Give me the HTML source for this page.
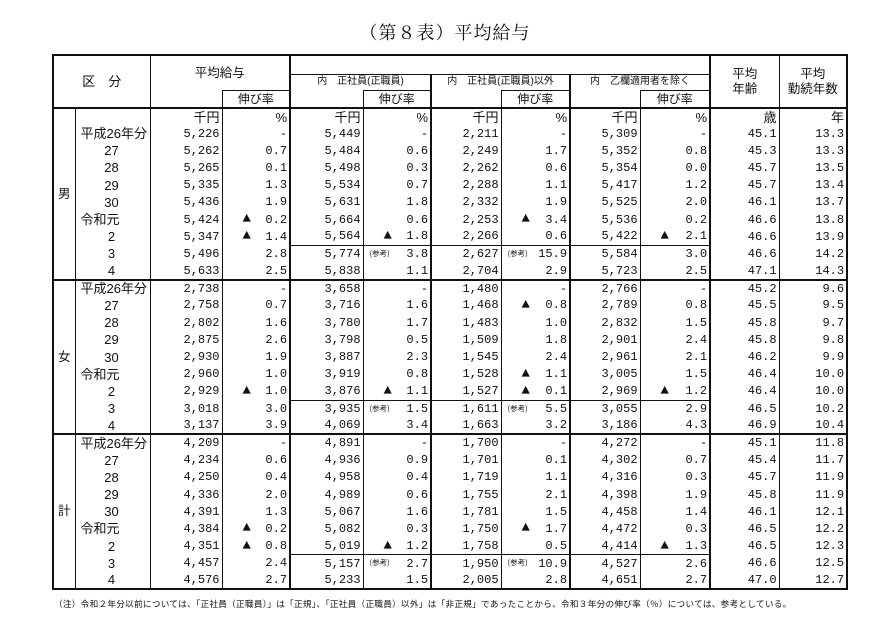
<!DOCTYPE html>
<html><head><meta charset="utf-8">
<style>
body{margin:0;width:870px;height:621px;background:#fff;position:relative;overflow:hidden;font-family:"Liberation Mono","Noto Sans CJK JP",monospace;color:#111}
.title{position:absolute;left:0;width:890px;top:19px;text-align:center;font-family:"Liberation Serif","Noto Serif CJK SC",serif;font-size:18px;letter-spacing:1px}
table{position:absolute;left:52px;top:54px;border-collapse:collapse;table-layout:fixed;width:794px;border:2px solid #111}
td{padding:0 2px 0 0;text-align:right;white-space:nowrap;font-size:12px;line-height:1;overflow:hidden}
thead td{text-align:center;font-family:"Liberation Sans","Noto Sans CJK JP",sans-serif;font-size:12px;padding:0}
thead{border-bottom:2px solid #111}
tbody{border-top:2px solid #111}
tbody tr{height:17.2px}
tbody tr.u{height:17px}
.c1{border-left:1px solid #111}
.c2{border-left:2px solid #111}
.hb{border-bottom:1px solid #111}
.ht{border-top:1px solid #111}
.sm{font-size:10px !important}
.yr{text-align:center;font-family:"Liberation Sans","Noto Sans CJK JP",sans-serif;font-size:13px}
.yl{text-align:left;padding-left:5px;font-family:"Liberation Sans","Noto Sans CJK JP",sans-serif;font-size:13px}
.lab{text-align:center;font-family:"Liberation Sans","Noto Sans CJK JP",sans-serif;font-size:12.5px;padding:0}
.g{position:relative}
.t{position:absolute;left:20px;top:1px;font-size:14px}
.r{position:absolute;left:6px;top:4px;font-size:7.5px;font-family:"Noto Sans CJK JP",sans-serif}
.un{font-family:"Liberation Sans","Noto Sans CJK JP",sans-serif;font-size:13px}
.rb td.s{border-top:1px solid #111}
.note{position:absolute;left:54px;top:598px;font-family:"Noto Sans CJK JP",sans-serif;font-size:8.6px;letter-spacing:0.3px;white-space:nowrap}
</style></head><body>
<div class="title">（第８表）平均給与</div>
<table>
<colgroup>
<col style="width:22px"><col style="width:75px" class="c1"><col style="width:72px" class="c1"><col style="width:68px" class="c1"><col style="width:73px" class="c2"><col style="width:68px" class="c1"><col style="width:70px" class="c2"><col style="width:69px" class="c1"><col style="width:70px" class="c2"><col style="width:70px" class="c1"><col style="width:69px" class="c2"><col style="width:68px" class="c1">
</colgroup>
<thead>
<tr style="height:19px"><td colspan="2" rowspan="3" style="font-size:13px">区　分</td><td colspan="2" rowspan="2" class="c1" style="font-size:12.5px">平均給与</td><td colspan="6" class="hb c2"></td><td rowspan="3" class="c2" style="font-size:12.5px;line-height:1.15">平均<br>年齢</td><td rowspan="3" class="c1" style="font-size:12.5px;line-height:1.15">平均<br>勤続年数</td></tr>
<tr style="height:16px"><td colspan="2" class="sm c2">内　正社員(正職員)</td><td colspan="2" class="sm c2">内　正社員(正職員)以外</td><td colspan="2" class="sm c2">内　乙欄適用者を除く</td></tr>
<tr style="height:18px"><td class="c1"></td><td class="ht c1">伸び率</td><td class="c2"></td><td class="ht c1">伸び率</td><td class="c2"></td><td class="ht c1">伸び率</td><td class="c2"></td><td class="ht c1">伸び率</td></tr>
</thead>
<tbody style="border-top:2px solid #111">
<tr class="u"><td rowspan="10" class="lab">男</td><td></td><td class="un">千円</td><td class="un">%</td><td class="un">千円</td><td class="un">%</td><td class="un">千円</td><td class="un">%</td><td class="un">千円</td><td class="un">%</td><td class="un">歳</td><td class="un">年</td></tr>
<tr><td class="yl">平成26年分</td><td>5,226</td><td>-</td><td>5,449</td><td>-</td><td>2,211</td><td>-</td><td>5,309</td><td>-</td><td>45.1</td><td>13.3</td></tr>
<tr><td class="yr">27</td><td>5,262</td><td>0.7</td><td>5,484</td><td>0.6</td><td>2,249</td><td>1.7</td><td>5,352</td><td>0.8</td><td>45.3</td><td>13.3</td></tr>
<tr><td class="yr">28</td><td>5,265</td><td>0.1</td><td>5,498</td><td>0.3</td><td>2,262</td><td>0.6</td><td>5,354</td><td>0.0</td><td>45.7</td><td>13.5</td></tr>
<tr><td class="yr">29</td><td>5,335</td><td>1.3</td><td>5,534</td><td>0.7</td><td>2,288</td><td>1.1</td><td>5,417</td><td>1.2</td><td>45.7</td><td>13.4</td></tr>
<tr><td class="yr">30</td><td>5,436</td><td>1.9</td><td>5,631</td><td>1.8</td><td>2,332</td><td>1.9</td><td>5,525</td><td>2.0</td><td>46.1</td><td>13.7</td></tr>
<tr><td class="yl">令和元</td><td>5,424</td><td class="g"><span class="t">▲</span>0.2</td><td>5,664</td><td>0.6</td><td>2,253</td><td class="g"><span class="t">▲</span>3.4</td><td>5,536</td><td>0.2</td><td>46.6</td><td>13.8</td></tr>
<tr><td class="yr">2</td><td>5,347</td><td class="g"><span class="t">▲</span>1.4</td><td>5,564</td><td class="g"><span class="t">▲</span>1.8</td><td>2,266</td><td>0.6</td><td>5,422</td><td class="g"><span class="t">▲</span>2.1</td><td>46.6</td><td>13.9</td></tr>
<tr class="rb"><td class="yr">3</td><td>5,496</td><td>2.8</td><td class="s">5,774</td><td class="s g"><span class="r">(参考)</span>3.8</td><td class="s">2,627</td><td class="s g"><span class="r">(参考)</span>15.9</td><td class="s">5,584</td><td class="s">3.0</td><td>46.6</td><td>14.2</td></tr>
<tr><td class="yr">4</td><td>5,633</td><td>2.5</td><td>5,838</td><td>1.1</td><td>2,704</td><td>2.9</td><td>5,723</td><td>2.5</td><td>47.1</td><td>14.3</td></tr>
</tbody>
<tbody>
<tr><td rowspan="9" class="lab">女</td><td class="yl">平成26年分</td><td>2,738</td><td>-</td><td>3,658</td><td>-</td><td>1,480</td><td>-</td><td>2,766</td><td>-</td><td>45.2</td><td>9.6</td></tr>
<tr><td class="yr">27</td><td>2,758</td><td>0.7</td><td>3,716</td><td>1.6</td><td>1,468</td><td class="g"><span class="t">▲</span>0.8</td><td>2,789</td><td>0.8</td><td>45.5</td><td>9.5</td></tr>
<tr><td class="yr">28</td><td>2,802</td><td>1.6</td><td>3,780</td><td>1.7</td><td>1,483</td><td>1.0</td><td>2,832</td><td>1.5</td><td>45.8</td><td>9.7</td></tr>
<tr><td class="yr">29</td><td>2,875</td><td>2.6</td><td>3,798</td><td>0.5</td><td>1,509</td><td>1.8</td><td>2,901</td><td>2.4</td><td>45.8</td><td>9.8</td></tr>
<tr><td class="yr">30</td><td>2,930</td><td>1.9</td><td>3,887</td><td>2.3</td><td>1,545</td><td>2.4</td><td>2,961</td><td>2.1</td><td>46.2</td><td>9.9</td></tr>
<tr><td class="yl">令和元</td><td>2,960</td><td>1.0</td><td>3,919</td><td>0.8</td><td>1,528</td><td class="g"><span class="t">▲</span>1.1</td><td>3,005</td><td>1.5</td><td>46.4</td><td>10.0</td></tr>
<tr><td class="yr">2</td><td>2,929</td><td class="g"><span class="t">▲</span>1.0</td><td>3,876</td><td class="g"><span class="t">▲</span>1.1</td><td>1,527</td><td class="g"><span class="t">▲</span>0.1</td><td>2,969</td><td class="g"><span class="t">▲</span>1.2</td><td>46.4</td><td>10.0</td></tr>
<tr class="rb"><td class="yr">3</td><td>3,018</td><td>3.0</td><td class="s">3,935</td><td class="s g"><span class="r">(参考)</span>1.5</td><td class="s">1,611</td><td class="s g"><span class="r">(参考)</span>5.5</td><td class="s">3,055</td><td class="s">2.9</td><td>46.5</td><td>10.2</td></tr>
<tr><td class="yr">4</td><td>3,137</td><td>3.9</td><td>4,069</td><td>3.4</td><td>1,663</td><td>3.2</td><td>3,186</td><td>4.3</td><td>46.9</td><td>10.4</td></tr>
</tbody>
<tbody>
<tr><td rowspan="9" class="lab">計</td><td class="yl">平成26年分</td><td>4,209</td><td>-</td><td>4,891</td><td>-</td><td>1,700</td><td>-</td><td>4,272</td><td>-</td><td>45.1</td><td>11.8</td></tr>
<tr><td class="yr">27</td><td>4,234</td><td>0.6</td><td>4,936</td><td>0.9</td><td>1,701</td><td>0.1</td><td>4,302</td><td>0.7</td><td>45.4</td><td>11.7</td></tr>
<tr><td class="yr">28</td><td>4,250</td><td>0.4</td><td>4,958</td><td>0.4</td><td>1,719</td><td>1.1</td><td>4,316</td><td>0.3</td><td>45.7</td><td>11.9</td></tr>
<tr><td class="yr">29</td><td>4,336</td><td>2.0</td><td>4,989</td><td>0.6</td><td>1,755</td><td>2.1</td><td>4,398</td><td>1.9</td><td>45.8</td><td>11.9</td></tr>
<tr><td class="yr">30</td><td>4,391</td><td>1.3</td><td>5,067</td><td>1.6</td><td>1,781</td><td>1.5</td><td>4,458</td><td>1.4</td><td>46.1</td><td>12.1</td></tr>
<tr><td class="yl">令和元</td><td>4,384</td><td class="g"><span class="t">▲</span>0.2</td><td>5,082</td><td>0.3</td><td>1,750</td><td class="g"><span class="t">▲</span>1.7</td><td>4,472</td><td>0.3</td><td>46.5</td><td>12.2</td></tr>
<tr><td class="yr">2</td><td>4,351</td><td class="g"><span class="t">▲</span>0.8</td><td>5,019</td><td class="g"><span class="t">▲</span>1.2</td><td>1,758</td><td>0.5</td><td>4,414</td><td class="g"><span class="t">▲</span>1.3</td><td>46.5</td><td>12.3</td></tr>
<tr class="rb"><td class="yr">3</td><td>4,457</td><td>2.4</td><td class="s">5,157</td><td class="s g"><span class="r">(参考)</span>2.7</td><td class="s">1,950</td><td class="s g"><span class="r">(参考)</span>10.9</td><td class="s">4,527</td><td class="s">2.6</td><td>46.6</td><td>12.5</td></tr>
<tr><td class="yr">4</td><td>4,576</td><td>2.7</td><td>5,233</td><td>1.5</td><td>2,005</td><td>2.8</td><td>4,651</td><td>2.7</td><td>47.0</td><td>12.7</td></tr>
</tbody>
</table>
<div class="note">（注）令和２年分以前については、「正社員（正職員）」は「正規」、「正社員（正職員）以外」は「非正規」であったことから、令和３年分の伸び率（％）については、参考としている。</div>
</body></html>
